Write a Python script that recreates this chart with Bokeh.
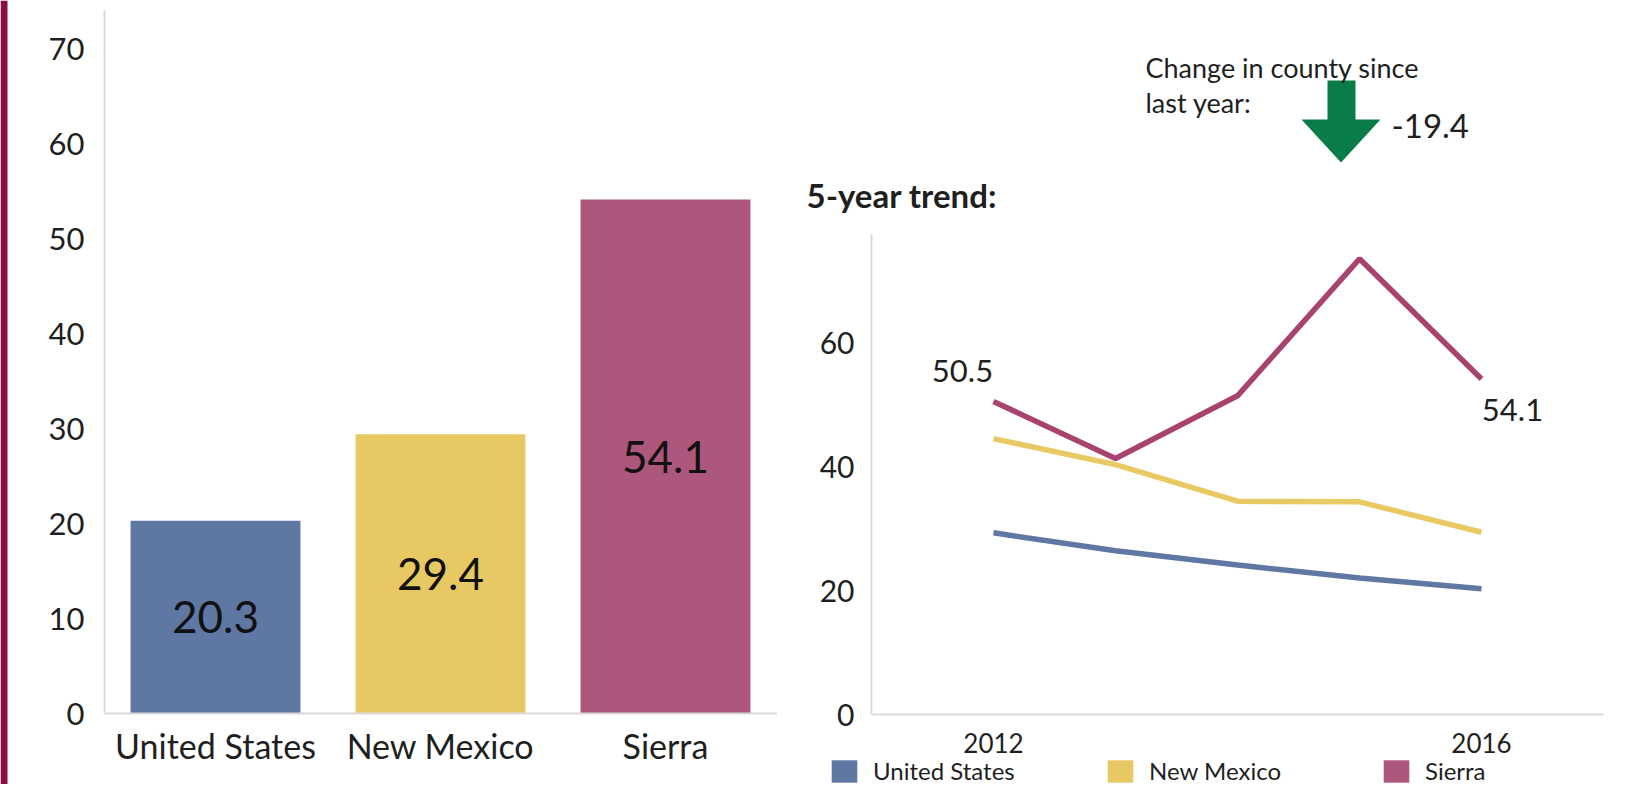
from bokeh.plotting import figure
from bokeh.models import (ColumnDataSource, Range1d, FixedTicker, Legend, LegendItem, Label,
                          BoxAnnotation)
from bokeh.layouts import row
from bokeh.core.properties import value
from bokeh.embed import file_html
from bokeh.resources import INLINE

# ---------------- data ----------------
categories = ["United States", "New Mexico", "Sierra"]
current_values = [20.3, 29.4, 54.1]
bar_colors = ["#5f77a3", "#e8c862", "#ae577c"]

years = [2012, 2013, 2014, 2015, 2016]
us_trend = [29.3, 26.4, 24.1, 22.0, 20.3]
nm_trend = [44.5, 40.3, 34.4, 34.3, 29.4]
sierra_trend = [50.5, 41.3, 51.4, 73.5, 54.1]
line_colors = ["#5f77a3", "#e9c964", "#a8426f"]

left_ticks = [0, 10, 20, 30, 40, 50, 60, 70]
right_ticks = [0, 20, 40, 60]
year_ticks = [2012, 2016]
change_value = -19.4

FONT = value("Lato")   # for glyphs
FS = "Lato"            # for axes / annotations
TXT = "#1f1f1f"
AXIS = "#d9d9d9"

W_A, W_B, H = 777, 836, 784


def style_axes(p, tick_size):
    for ax in (p.xaxis, p.yaxis):
        ax.axis_line_color = AXIS
        ax.axis_line_width = 2
        ax.major_tick_line_color = None
        ax.minor_tick_line_color = None
        ax.major_tick_out = 0
        ax.major_tick_in = 0
        ax.major_label_text_font = FS
        ax.major_label_text_color = TXT
    p.yaxis.major_label_text_font_size = tick_size


# ---------------- left: bar chart ----------------
# layout (px): canvas 0..777 ; category step 225px, first centre at 215 ; zero at 713, 9.5 px/unit
def ax_(sx):
    return (sx - 215) / 225


def ay_(sy):
    return (713 - sy) / 9.5


pa = figure(x_range=Range1d(ax_(0), ax_(W_A)), y_range=Range1d(ay_(H), ay_(0)),
            width=W_A, height=H, output_backend="svg", toolbar_location=None, min_border=0)
pa.title.visible = False
pa.outline_line_color = None
pa.grid.visible = False

idx = list(range(len(categories)))
src = ColumnDataSource(dict(x=idx, val=current_values, color=bar_colors,
                            mid=[v / 2 for v in current_values],
                            lab=[f"{v:.1f}" for v in current_values]))
pa.vbar(x="x", top="val", width=0.755, fill_color="color", line_color=None, source=src)
pa.text(x="x", y="mid", text="lab", source=src, text_align="center", text_baseline="middle",
        text_font=FONT, text_font_size="44px", text_color="#111111")

pa.yaxis.ticker = FixedTicker(ticks=left_ticks)
pa.yaxis.fixed_location = ax_(104)
pa.yaxis.bounds = (0, ay_(10))
pa.xaxis.ticker = FixedTicker(ticks=idx)
pa.xaxis.major_label_overrides = {i: c for i, c in zip(idx, categories)}
pa.xaxis.fixed_location = 0
pa.xaxis.bounds = (ax_(104), ax_(779))
style_axes(pa, "31px")
pa.yaxis.major_label_standoff = 20
pa.xaxis.major_label_text_font_size = "34px"
pa.xaxis.major_label_standoff = 11

# decorative page-edge strip
pa.add_layout(BoxAnnotation(left=ax_(0), right=ax_(7), fill_color="#8b0d45", fill_alpha=1,
                            line_color=None))

# ---------------- right: trend chart ----------------
# layout (px): canvas 777..1613 ; 2011 at 871, 122 px/yr ; zero at 714, 6.2 px/unit
def bx(sx):
    return 2011 + (sx - 871) / 122


def by(sy):
    return (714 - sy) / 6.2


pb = figure(x_range=Range1d(bx(W_A), bx(W_A + W_B)), y_range=Range1d(by(H), by(0)),
            width=W_B, height=H, output_backend="svg", toolbar_location=None, min_border=0)
pb.title.visible = False
pb.outline_line_color = None
pb.grid.visible = False

series = [("United States", us_trend), ("New Mexico", nm_trend), ("Sierra", sierra_trend)]
legend_items = []
for (name, vals), lc, bc in zip(series, line_colors, bar_colors):
    pb.line(years, vals, line_color=lc, line_width=5.5)
    # zero-width bars: invisible in the plot, give square swatches in the legend
    sw = pb.vbar(x=years, top=vals, width=0, fill_color=bc, line_color=None)
    legend_items.append(LegendItem(label=name, renderers=[sw]))

# data labels for county series
pb.text(x=[years[0]], y=[sierra_trend[0]], text=[f"{sierra_trend[0]:.1f}"], x_offset=-31, y_offset=-30,
        text_align="center", text_baseline="middle", text_font=FONT, text_font_size="31px", text_color=TXT)
pb.text(x=[years[-1]], y=[sierra_trend[-1]], text=[f"{sierra_trend[-1]:.1f}"], x_offset=31, y_offset=31,
        text_align="center", text_baseline="middle", text_font=FONT, text_font_size="31px", text_color=TXT)

# change arrow (decorative annotation)
arrow_sx = [1327, 1355, 1355, 1380, 1340.5, 1301, 1327]
arrow_sy = [80, 80, 119, 119, 162, 119, 119]
pb.patch([bx(v) for v in arrow_sx], [by(v) for v in arrow_sy], fill_color="#0a7c48", line_color=None)

pb.add_layout(Label(x=bx(1145), y=by(67), text="Change in county since", text_font=FS,
                    text_font_size="27px", text_color=TXT, text_baseline="alphabetic"))
pb.add_layout(Label(x=bx(1145), y=by(102), text="last year:", text_font=FS,
                    text_font_size="27px", text_color=TXT, text_baseline="alphabetic"))
pb.add_layout(Label(x=bx(1391), y=by(125), text=f"{change_value}", text_font=FS,
                    text_font_size="33px", text_color=TXT, text_baseline="middle"))
pb.add_layout(Label(x=bx(806), y=by(194), text="5-year trend:", text_font=FS,
                    text_font_size="33px", text_font_style="bold", text_color=TXT,
                    text_baseline="alphabetic"))

pb.yaxis.ticker = FixedTicker(ticks=right_ticks)
pb.yaxis.fixed_location = 2011
pb.yaxis.bounds = (0, by(234))
pb.xaxis.ticker = FixedTicker(ticks=year_ticks)
pb.xaxis.fixed_location = 0
pb.xaxis.bounds = (2011, 2017)
style_axes(pb, "30px")
pb.yaxis.major_label_standoff = 17
pb.xaxis.major_label_text_font_size = "26px"
pb.xaxis.major_label_standoff = 18

legend = Legend(items=legend_items, orientation="horizontal", location=(828 - W_A, -1),
                glyph_width=32, glyph_height=28, label_height=28, label_width=220,
                label_standoff=13, spacing=11,
                padding=0, margin=0, border_line_color=None, background_fill_alpha=0,
                label_text_font=FS, label_text_font_size="24px", label_text_color=TXT)
pb.add_layout(legend)

layout = row(pa, pb)

open("out.html", "w").write(file_html(layout, INLINE))
